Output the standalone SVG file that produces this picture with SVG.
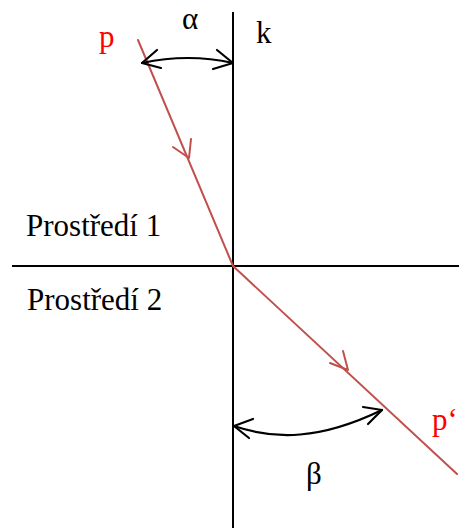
<svg xmlns="http://www.w3.org/2000/svg" width="459" height="528" viewBox="0 0 459 528">
<style>
.ax{stroke:#000;stroke-width:2;fill:none}
.ray{stroke:#c0504d;stroke-width:2;fill:none;stroke-linecap:round;stroke-linejoin:round}
.arc{stroke:#000;stroke-width:2.2;fill:none;stroke-linecap:round;stroke-linejoin:round}
</style>
<rect width="459" height="528" fill="#fff"/>
<g id="connectors">
<line class="ax" x1="233" y1="12" x2="233" y2="528"/>
<line class="ax" x1="12" y1="266" x2="459" y2="266"/>
<line class="ray" x1="138" y1="40" x2="233" y2="266"/>
<polyline class="ray" points="173,147 189,158 191,139"/>
<line class="ray" x1="233" y1="266" x2="457" y2="474"/>
<polyline class="ray" points="330,363 348,370 343,351"/>
<path class="arc" d="M142,63 Q188,53 233,63"/>
<polyline class="arc" points="157,50 142,63 161,68"/>
<polyline class="arc" points="217,50 233,63 213,69"/>
<path class="arc" d="M234,426 C275,440 320,440 382,410"/>
<polyline class="arc" points="253,419 234,426 249,438"/>
<polyline class="arc" points="363,407 382,410 368,424"/>
</g>
<g id="label-p"><text font-family="Liberation Serif" font-size="31" fill="#ff0000" x="99" y="47">p</text></g>
<g id="label-alpha"><text font-family="Liberation Serif" font-size="31" x="182" y="29">α</text></g>
<g id="label-k"><text font-family="Liberation Serif" font-size="31" x="256" y="43">k</text></g>
<g id="label-prostredi1"><text font-family="Liberation Serif" font-size="31" x="26" y="236">Prostředí 1</text></g>
<g id="label-prostredi2"><text font-family="Liberation Serif" font-size="31" x="27" y="310">Prostředí 2</text></g>
<g id="label-p2"><text font-family="Liberation Serif" font-size="31" fill="#ff0000" x="432" y="430">p‘</text></g>
<g id="label-beta"><text font-family="Liberation Serif" font-size="31" x="306" y="484">β</text></g>
</svg>
